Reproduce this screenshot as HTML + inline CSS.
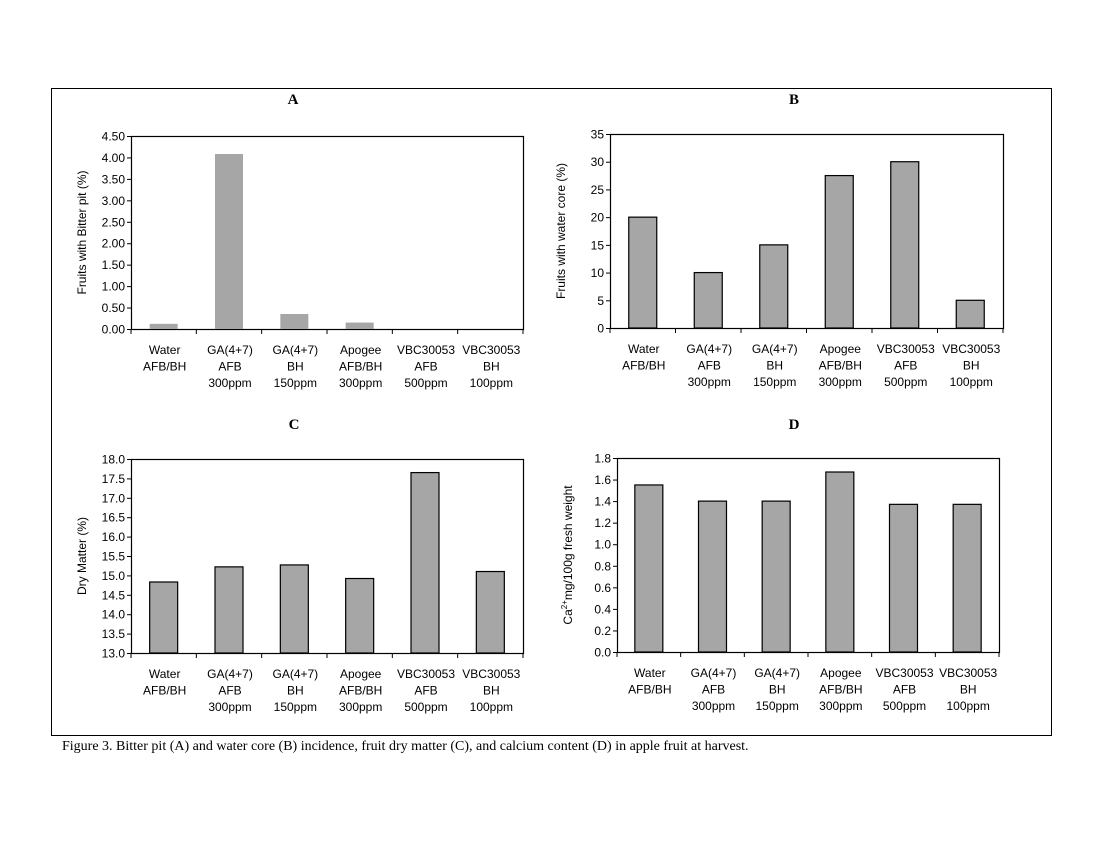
<!DOCTYPE html>
<html><head><meta charset="utf-8"><style>
body{margin:0;background:#fff;width:1100px;height:850px;overflow:hidden}
svg{display:block}
text{font-family:"Liberation Sans",sans-serif;fill:#000}
.t{font-family:"Liberation Serif",serif;font-weight:bold;font-size:15px}
</style></head><body>
<svg id="fig" width="1100" height="850">
<rect x="51.5" y="88.5" width="1000" height="647" fill="none" stroke="#000"/>
<text class="t" x="293" y="104" text-anchor="middle">A</text>
<text class="t" x="794" y="104" text-anchor="middle">B</text>
<text class="t" x="294" y="429" text-anchor="middle">C</text>
<text class="t" x="794" y="429" text-anchor="middle">D</text>
<text x="62" y="750" style="font-family:'Liberation Serif',serif;font-size:14px">Figure 3. Bitter pit (A) and water core (B) incidence, fruit dry matter (C), and calcium content (D) in apple fruit at harvest.</text>
</svg>
<script>
const categories=[["Water","AFB/BH",""],["GA(4+7)","AFB","300ppm"],["GA(4+7)","BH","150ppm"],["Apogee","AFB/BH","300ppm"],["VBC30053","AFB","500ppm"],["VBC30053","BH","100ppm"]];
const valuesA=[0.12,4.08,0.35,0.15,0,0];
const valuesB=[20,10,15,27.5,30,5];
const valuesC=[14.83,15.22,15.27,14.92,17.65,15.10];
const valuesD=[1.55,1.40,1.40,1.67,1.37,1.37];
const ticksA=["0.00","0.50","1.00","1.50","2.00","2.50","3.00","3.50","4.00","4.50"];
const ticksB=["0","5","10","15","20","25","30","35"];
const ticksC=["13.0","13.5","14.0","14.5","15.0","15.5","16.0","16.5","17.0","17.5","18.0"];
const ticksD=["0.0","0.2","0.4","0.6","0.8","1.0","1.2","1.4","1.6","1.8"];
const NS="http://www.w3.org/2000/svg";
const svg=document.getElementById('fig');
function mk(tag,attrs,parent){const e=document.createElementNS(NS,tag);for(const k in attrs)e.setAttribute(k,attrs[k]);(parent||svg).appendChild(e);return e;}
function panel(id,L,R,T,B,vals,ticks,ytitle,border){
  const g=mk('g',{});
  
  
  const min=parseFloat(ticks[0]),max=parseFloat(ticks[ticks.length-1]);
  const y=v=>B-(v-min)/(max-min)*(B-T);
  const cw=(R-L)/vals.length;
  const x=i=>L+cw*(i+0.5);
  const box=mk('rect',{x:L+.5,y:T+.5,width:R-L,height:B-T,fill:'none',stroke:'#000','stroke-width':1.2},g);
  
  
  ticks.forEach(t=>{const v=parseFloat(t);const yy=y(v);
    mk('line',{x1:L-4,x2:L,y1:yy+.5,y2:yy+.5,stroke:'#000'},g);
    const tx=mk('text',{x:L-6,y:yy+4.5,'text-anchor':'end','font-size':12},g);tx.textContent=t;
    
    });
  for(let i=0;i<=vals.length;i++){const xx=L+cw*i;mk('line',{x1:xx,x2:xx,y1:B,y2:B+5,stroke:'#000'},g);}
  vals.forEach((v,i)=>{const bw=28;const h=B-y(v);
    const r=mk('rect',{x:x(i)-bw/2,y:y(v),width:bw,height:Math.max(h,0),fill:'#a6a6a6',stroke:border?'#000':'none','stroke-width':1.2},g);
    
    
    categories[i].forEach((s,k)=>{if(!s)return;const tx=mk('text',{x:x(i)+1,y:B+25+k*16.5,'text-anchor':'middle','font-size':12},g);tx.textContent=s;
      
      });
  });
  const yt=mk('text',{x:0,y:0,'text-anchor':'middle','font-size':12,transform:`translate(${L-45},${(T+B)/2}) rotate(-90)`},g);
  yt.innerHTML=ytitle;
  
  
}
panel('a',131,523,136,329,valuesA,ticksA,'Fruits with Bitter pit (%)',false);
panel('b',610,1003,134,328,valuesB,ticksB,'Fruits with water core (%)',true);
panel('c',131,523,459,653,valuesC,ticksC,'Dry Matter (%)',true);
panel('d',617,999,458,652,valuesD,ticksD,'Ca<tspan dy="-5" font-size="8">2+</tspan><tspan dy="5">mg/100g fresh weight</tspan>',true);
</script>
</body></html>
